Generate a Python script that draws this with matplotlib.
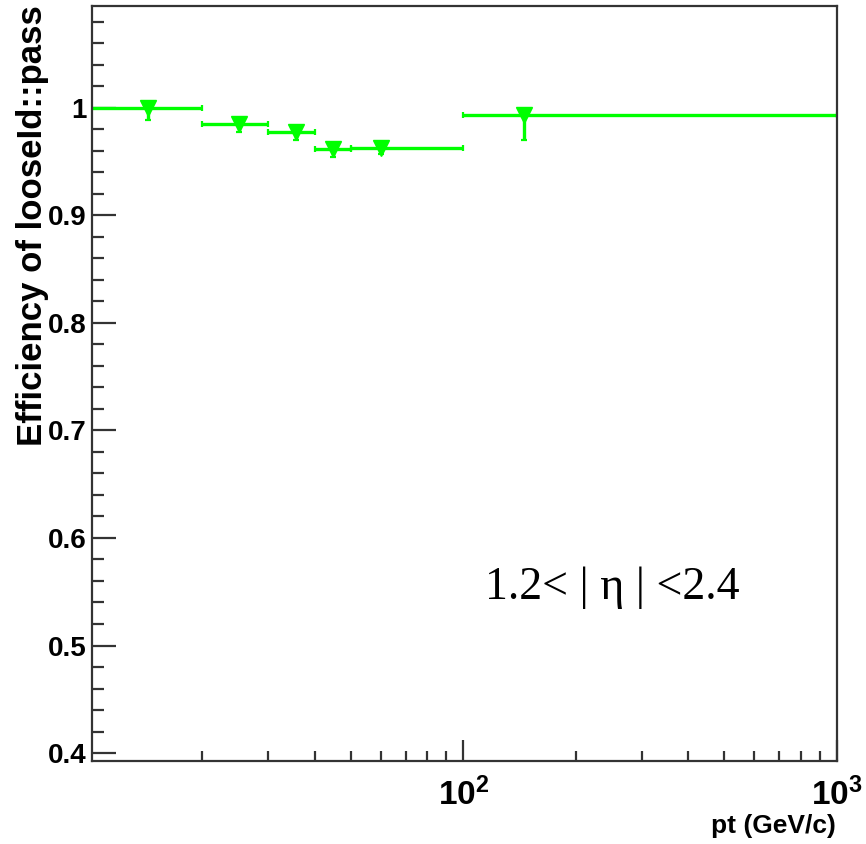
import matplotlib
matplotlib.use('Agg')
import matplotlib.pyplot as plt
import numpy as np

# efficiency per pt bin
bin_lo = [10, 20, 30, 40, 50, 100]
bin_hi = [20, 30, 40, 50, 100, 1000]
pt_mean = [14.3, 25.1, 35.6, 44.7, 60.2, 145.7]
eff = [0.9995, 0.985, 0.9777, 0.9613, 0.9628, 0.9929]
err_lo = [0.011, 0.008, 0.008, 0.007, 0.006, 0.023]
err_hi = [0.0005, 0.005, 0.005, 0.005, 0.005, 0.006]

y_ticks = [0.4, 0.5, 0.6, 0.7, 0.8, 0.9, 1.0]
y_ticklabels = ['0.4', '0.5', '0.6', '0.7', '0.8', '0.9', '1']
x_ticks = [100, 1000]
x_ticklabels = ['$10^{2}$', '$10^{3}$']

plt.rcParams['font.family'] = ['Liberation Sans', 'DejaVu Sans']
plt.rcParams['font.weight'] = 'bold'
plt.rcParams['mathtext.fontset'] = 'custom'
plt.rcParams['mathtext.rm'] = 'Liberation Sans:bold'
plt.rcParams['mathtext.it'] = 'Liberation Sans:bold'
plt.rcParams['mathtext.bf'] = 'Liberation Sans:bold'
plt.rcParams['mathtext.default'] = 'rm'

fig = plt.figure(figsize=(8.66, 8.44), dpi=100)
ax = fig.add_axes([0.1059, 0.0983, 0.8603, 0.8946])

pt = np.array(pt_mean)
xerr = [pt - np.array(bin_lo), np.array(bin_hi) - pt]
yerr = [err_lo, err_hi]
green = '#00ff00'
ax.errorbar(pt, eff, xerr=xerr, yerr=yerr, fmt='v', color=green, ms=12,
            elinewidth=2.4, capsize=2.4, capthick=1.6)

ax.set_xscale('log')
ax.set_xlim(10.1, 1000)
ax.set_ylim(0.3926, 1.0946)

ax.set_yticks(y_ticks)
ax.set_yticklabels(y_ticklabels)
ax.set_yticks(np.arange(0.40, 1.095, 0.02), minor=True)
ax.set_xticks(x_ticks)
ax.set_xticklabels(x_ticklabels)
ax.xaxis.set_minor_formatter(matplotlib.ticker.NullFormatter())

ax.tick_params(axis='both', which='both', direction='in', width=1.6,
               colors='#333333', labelcolor='black', labelsize=20)
ax.tick_params(axis='y', which='major', length=17, pad=4)
ax.tick_params(axis='y', which='minor', length=8.5)
ax.tick_params(axis='x', which='major', length=15, pad=12, labelsize=24)
ax.tick_params(axis='x', which='minor', length=7.5)

for s in ax.spines.values():
    s.set_linewidth(1.6)
    s.set_color('#333333')

fig.text(33 / 866, 1 - 5 / 844, 'Efficiency of looseId::pass', rotation=90,
         ha='center', va='top', fontsize=25, fontweight='bold')
fig.text(836 / 866, 1 - 826 / 844, 'pt (GeV/c)', ha='right', va='center',
         fontsize=19, fontweight='bold')

ax.text(485 / 866, 1 - 588 / 844, '1.2< | \u03b7 | <2.4', transform=fig.transFigure,
        ha='left', va='center', fontsize=33, fontweight='normal',
        family=['Liberation Serif', 'DejaVu Serif'])

fig.savefig('out.png', dpi=100)
